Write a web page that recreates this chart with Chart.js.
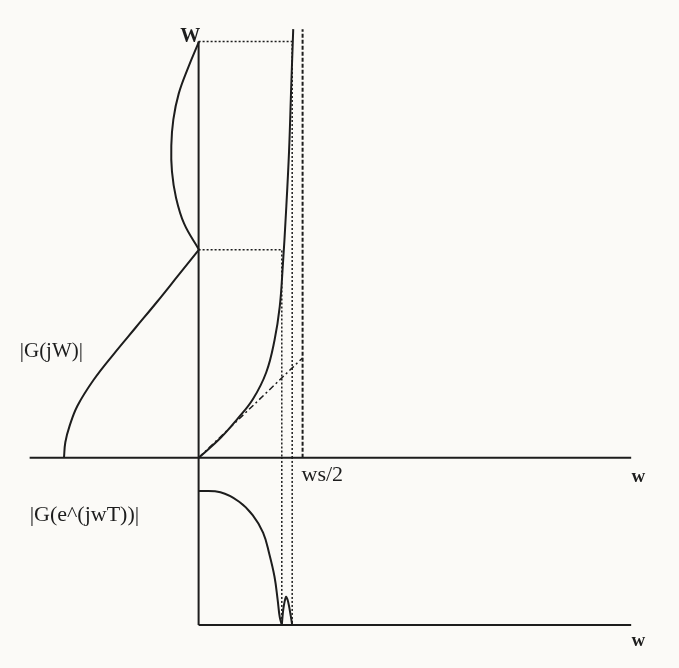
<!DOCTYPE html>
<html>
<head>
<meta charset="utf-8">
<title>Frequency warping</title>
<script src="https://cdn.jsdelivr.net/npm/chart.js@4/dist/chart.umd.min.js"></script>
<style>
  html, body { margin: 0; padding: 0; background: #fbfaf7; }
  #wrap { width: 679px; height: 668px; }
</style>
</head>
<body>
<div id="wrap"><canvas id="warp"></canvas></div>
<script>
// band edges: analog W and the digital w they land on (w in units of ws/2)
var WEdges = [2.0, 4.0];
var wEdges = [0.80, 0.90];
var wNyquist = 1.0;

// warping curve W(w)
var warpW = [0, 0.21, 0.37, 0.52, 0.65, 0.73, 0.78, 0.81, 0.84, 0.87, 0.89, 0.91];
var warpOmega = [0, 0.19, 0.37, 0.56, 0.82, 1.13, 1.45, 1.85, 2.35, 2.95, 3.55, 4.12];

// tangent at the origin
var tangentW = [0, 1.0];
var tangentOmega = [0, 0.96];

// analog response |G(jW)|, drawn sideways to the left of the W axis
var passOmega = [0, 0.15, 0.3, 0.5, 0.75, 1.0, 1.25, 1.5, 1.75, 2.0];
var passMag = [1.0, 0.99, 0.96, 0.90, 0.78, 0.63, 0.47, 0.31, 0.155, 0];
var lobeOmega = [2.0, 2.25, 2.5, 2.75, 3.0, 3.25, 3.5, 3.75, 4.0];
var lobeMag = [0, 0.11, 0.17, 0.2, 0.205, 0.19, 0.15, 0.08, 0];

// digital response |G(e^(jwT))|
var digW = [0, 0.21, 0.39, 0.52, 0.62, 0.68, 0.73, 0.76, 0.78, 0.80];
var digMag = [1.0, 0.99, 0.92, 0.82, 0.69, 0.53, 0.36, 0.19, 0.06, 0];
var bumpW = [0.80, 0.815, 0.84, 0.855, 0.87, 0.89, 0.90];
var bumpMag = [0, 0.12, 0.21, 0.19, 0.14, 0.05, 0];

var ink = '#1d1d1d';
var upperAxisOnLower = 1.254; // where the w axis of the top plot sits on the lower scale

function pts(xs, ys) {
  return xs.map(function (v, i) { return { x: v, y: ys[i] }; });
}

function line(data, extra) {
  var ds = {
    data: data,
    showLine: true,
    borderColor: ink,
    borderWidth: 2,
    pointRadius: 0,
    tension: 0,
    fill: false,
    xAxisID: 'x',
    yAxisID: 'y'
  };
  for (var k in extra) ds[k] = extra[k];
  return ds;
}

var datasets = [
  // axes
  line([{ x: -1.625, y: 0 }, { x: 4.16, y: 0 }]),
  line([{ x: 0, y: 0 }, { x: 0, y: WEdges[1] }]),
  line([{ x: 0, y: upperAxisOnLower }, { x: 0, y: 0 }], { yAxisID: 'y2' }),
  line([{ x: 0, y: 0 }, { x: 4.16, y: 0 }], { yAxisID: 'y2' }),
  // curves
  line(pts(passMag, passOmega), { xAxisID: 'mag', tension: 0.4 }),
  line(pts(lobeMag, lobeOmega), { xAxisID: 'mag', tension: 0.4 }),
  line(pts(warpW, warpOmega), { tension: 0.4 }),
  line(pts(digW, digMag), { yAxisID: 'y2', tension: 0.4 }),
  line(pts(bumpW, bumpMag), { yAxisID: 'y2', tension: 0.3 }),
  // ws/2 asymptote and tangent
  line([{ x: wNyquist, y: 0 }, { x: wNyquist, y: warpOmega[warpOmega.length - 1] }],
       { borderDash: [4, 2], borderWidth: 2 }),
  line(pts(tangentW, tangentOmega), { borderDash: [6, 3, 2, 3], borderWidth: 1.5 })
];

// dotted projections from the analog edges through the curve down to the digital plot
WEdges.forEach(function (W, i) {
  var w = wEdges[i];
  datasets.push(line([{ x: 0, y: W }, { x: w, y: W }, { x: w, y: 0 }],
    { borderDash: [2, 2], borderWidth: 1.5 }));
  datasets.push(line([{ x: w, y: upperAxisOnLower }, { x: w, y: 0 }],
    { yAxisID: 'y2', borderDash: [2, 2], borderWidth: 1.5 }));
});

var labels = [
  { text: 'W', x: -0.08, y: 4.05, align: 'center', font: 'bold 20px "Liberation Serif"' },
  { text: '|G(jW)|', x: -1.72, y: 1.02, align: 'left', font: '21px "Liberation Serif"' },
  { text: '|G(e^(jwT))|', x: -1.625, y: -0.55, align: 'left', font: '22px "Liberation Serif"' },
  { text: 'ws/2', x: 0.99, y: -0.17, align: 'left', font: '22px "Liberation Serif"' },
  { text: 'w', x: 4.23, y: -0.19, align: 'center', font: 'bold 19px "Liberation Serif"' },
  { text: 'w', x: 4.23, y: -1.76, align: 'center', font: 'bold 19px "Liberation Serif"' }
];

var labelPlugin = {
  id: 'labels',
  afterDatasetsDraw: function (chart) {
    var ctx = chart.ctx;
    labels.forEach(function (l) {
      ctx.save();
      ctx.font = l.font;
      ctx.fillStyle = ink;
      ctx.textAlign = l.align;
      ctx.textBaseline = 'middle';
      ctx.fillText(l.text, chart.scales.x.getPixelForValue(l.x), chart.scales.y.getPixelForValue(l.y));
      ctx.restore();
    });
  }
};

new Chart(document.getElementById('warp'), {
  type: 'scatter',
  data: { datasets: datasets },
  options: {
    responsive: true,
    maintainAspectRatio: false,
    animation: false,
    events: [],
    layout: { padding: 0 },
    plugins: { legend: { display: false }, tooltip: { enabled: false } },
    scales: {
      x: { type: 'linear', min: -1.91, max: 4.62, display: false },
      mag: { type: 'linear', reverse: true, min: -3.556, max: 1.474, display: false },
      y: { type: 'linear', min: -2.02, max: 4.40, display: false },
      y2: { type: 'linear', min: -0.321, max: 4.664, display: false }
    }
  },
  plugins: [labelPlugin]
});
</script>
</body>
</html>
